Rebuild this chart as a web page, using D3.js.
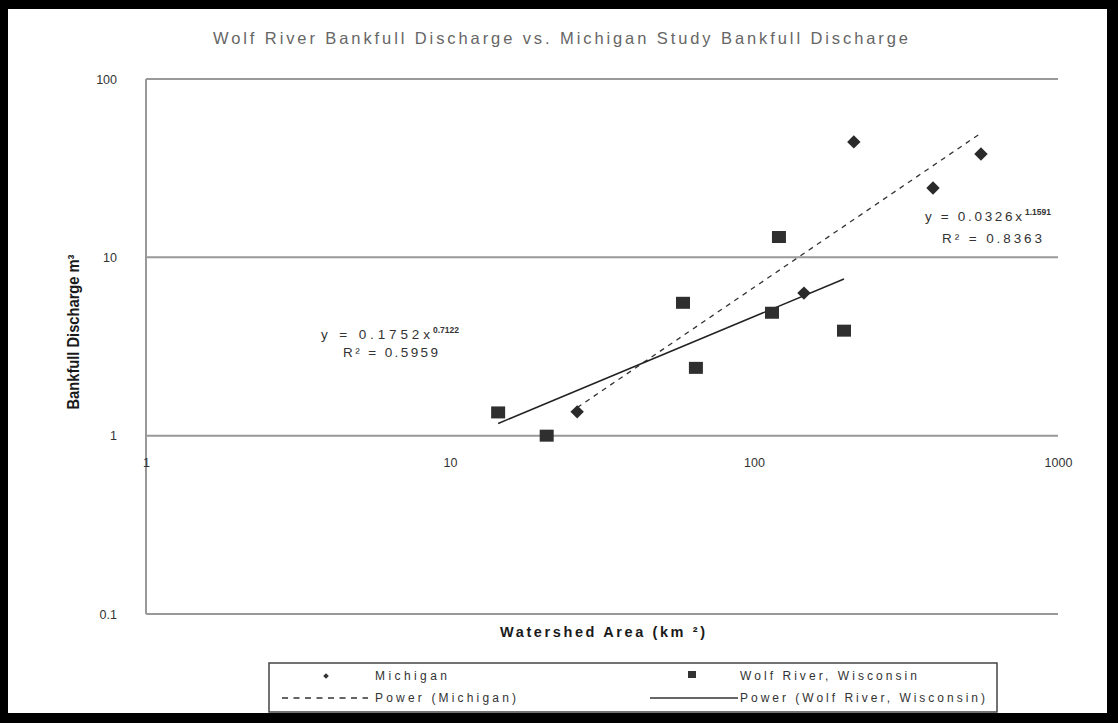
<!DOCTYPE html>
<html>
<head>
<meta charset="utf-8">
<script src="https://cdn.jsdelivr.net/npm/d3@7"></script>
<style>
  html, body { margin: 0; padding: 0; background: #000; }
  svg { display: block; }
  text { font-family: "Liberation Sans", Arial, sans-serif; }
</style>
</head>
<body>
<script>
// ---- data ----
const michiganArea = [26.2, 146, 213, 388, 558];
const michiganQ    = [1.36, 6.3, 44.4, 24.5, 38];
const wolfArea     = [14.4, 20.8, 58.4, 64.4, 114.6, 120.8, 197.7];
const wolfQ        = [1.35, 1.0, 5.56, 2.40, 4.89, 13.0, 3.88];
const michiganFit  = {a: 0.0326, b: 1.1591, r2: 0.8363};
const wolfFit      = {a: 0.1752, b: 0.7122, r2: 0.5959};
const xTicks = [1, 10, 100, 1000];
const yTicks = [0.1, 1, 10, 100];
const xTickLabels = ["1", "10", "100", "1000"];
const yTickLabels = ["0.1", "1", "10", "100"];
const legendLabels = ["Michigan", "Wolf River, Wisconsin", "Power (Michigan)", "Power (Wolf River, Wisconsin)"];

const W = 1118, H = 723;
const svg = d3.select("body").append("svg").attr("width", W).attr("height", H);

svg.append("rect").attr("width", W).attr("height", H).attr("fill", "#000");
svg.append("rect").attr("x", 8).attr("y", 9).attr("width", 1099).attr("height", 704).attr("fill", "#fff");

const x = d3.scaleLog().domain([1, 1000]).range([146, 1058]);
const y = d3.scaleLog().domain([0.1, 100]).range([614, 79]);

// title
svg.append("text").attr("x", 213).attr("y", 44)
  .attr("font-size", 16.5).attr("fill", "#666")
  .attr("textLength", 695).attr("lengthAdjust", "spacing")
  .text("Wolf River Bankfull Discharge vs. Michigan Study Bankfull Discharge");

// gridlines
svg.append("g").selectAll("line").data(yTicks).join("line")
  .attr("x1", x(1)).attr("x2", x(1000))
  .attr("y1", d => y(d)).attr("y2", d => y(d))
  .attr("stroke", "#999").attr("stroke-width", 2);

// left axis line
svg.append("line").attr("x1", x(1)).attr("x2", x(1)).attr("y1", y(100)).attr("y2", y(0.1))
  .attr("stroke", "#999").attr("stroke-width", 2);

// y axis labels
const yAxis = d3.axisLeft(y).tickValues(yTicks).tickSize(0).tickPadding(29)
  .tickFormat((d, i) => yTickLabels[i]);
const gy = svg.append("g").attr("transform", `translate(${x(1)},0)`).call(yAxis);
gy.select(".domain").remove();
gy.selectAll("text").attr("font-size", 12.5).attr("fill", "#333")
  .attr("font-family", "'Liberation Sans', Arial, sans-serif");

// x axis labels (crossing at y = 1)
const xAxis = d3.axisBottom(x).tickValues(xTicks).tickSize(0).tickPadding(22)
  .tickFormat((d, i) => xTickLabels[i]);
const gx = svg.append("g").attr("transform", `translate(0,${y(1)})`).call(xAxis);
gx.select(".domain").remove();
gx.selectAll("text").attr("font-size", 12.5).attr("fill", "#333")
  .attr("font-family", "'Liberation Sans', Arial, sans-serif");

// axis titles
svg.append("text").attr("transform", "translate(79,332) rotate(-90)")
  .attr("text-anchor", "middle").attr("font-size", 16).attr("font-weight", "bold")
  .attr("font-family", "'Liberation Sans Narrow', 'DejaVu Sans Condensed', sans-serif")
  .attr("fill", "#1a1a1a").attr("textLength", 155).attr("lengthAdjust", "spacingAndGlyphs")
  .text("Bankfull Discharge m³");

svg.append("text").attr("x", 500).attr("y", 637)
  .attr("font-size", 14.5).attr("font-weight", "bold").attr("fill", "#1a1a1a")
  .attr("textLength", 205).attr("lengthAdjust", "spacing")
  .text("Watershed Area (km ²)");

// trendlines (endpoints from the fitted power equations over each series' range)
function fitLine(fit, xs) {
  const e = d3.extent(xs);
  return e.map(v => [v, fit.a * Math.pow(v, fit.b)]);
}
const line = d3.line().x(d => x(d[0])).y(d => y(d[1]));
svg.append("path").datum(fitLine(michiganFit, michiganArea)).attr("d", line)
  .attr("fill", "none").attr("stroke", "#333").attr("stroke-width", 1.3)
  .attr("stroke-dasharray", "5,5");
svg.append("path").datum(fitLine(wolfFit, wolfArea)).attr("d", line)
  .attr("fill", "none").attr("stroke", "#222").attr("stroke-width", 1.5);

// markers
const diamond = d3.symbol().type(d3.symbolSquare).size(90);
svg.append("g").selectAll("path").data(michiganArea.map((a, i) => [a, michiganQ[i]])).join("path")
  .attr("d", diamond)
  .attr("transform", d => `translate(${x(d[0])},${y(d[1])}) rotate(45)`)
  .attr("fill", "#2a2a2a");
svg.append("g").selectAll("rect").data(wolfArea.map((a, i) => [a, wolfQ[i]])).join("rect")
  .attr("x", d => x(d[0]) - 7).attr("y", d => y(d[1]) - 6)
  .attr("width", 14).attr("height", 12).attr("fill", "#2f2f2f");

// equations
function eq(x1, y1, w1, x2, y2, w2, fit, expLabel) {
  svg.append("text").attr("x", x1).attr("y", y1)
    .attr("font-size", 13.5).attr("fill", "#333")
    .attr("textLength", w1).attr("lengthAdjust", "spacing")
    .text("y = " + fit.a + "x");
  svg.append("text").attr("x", x1 + w1 + 3).attr("y", y1 - 6)
    .attr("font-size", 8.5).attr("font-weight", "bold").attr("fill", "#333")
    .text(expLabel);
  svg.append("text").attr("x", x2).attr("y", y2)
    .attr("font-size", 13.5).attr("fill", "#333")
    .attr("textLength", w2).attr("lengthAdjust", "spacing")
    .text("R² = " + fit.r2);
}
eq(321, 339, 109, 343, 357, 95, wolfFit, "0.7122");
eq(925, 221, 97, 942, 243, 100, michiganFit, "1.1591");

// legend
svg.append("rect").attr("x", 269).attr("y", 663).attr("width", 728).attr("height", 49)
  .attr("fill", "#fff").attr("stroke", "#444").attr("stroke-width", 1.5);
const legText = (xx, yy, s, w) => svg.append("text").attr("x", xx).attr("y", yy)
  .attr("font-size", 12).attr("fill", "#333")
  .attr("textLength", w).attr("lengthAdjust", "spacing").text(s);
svg.append("path").attr("d", d3.symbol().type(d3.symbolSquare).size(16))
  .attr("transform", "translate(326,676) rotate(45)").attr("fill", "#333");
legText(375, 680, legendLabels[0], 72);
svg.append("rect").attr("x", 688).attr("y", 671).attr("width", 8).attr("height", 7).attr("fill", "#333");
legText(740, 680, legendLabels[1], 177);
svg.append("line").attr("x1", 282).attr("x2", 368).attr("y1", 698).attr("y2", 698)
  .attr("stroke", "#333").attr("stroke-width", 1.3).attr("stroke-dasharray", "6,5.5");
legText(375, 702, legendLabels[2], 141);
svg.append("line").attr("x1", 650).attr("x2", 738).attr("y1", 698).attr("y2", 698)
  .attr("stroke", "#333").attr("stroke-width", 1.3);
legText(740, 702, legendLabels[3], 245);
</script>
</body>
</html>
